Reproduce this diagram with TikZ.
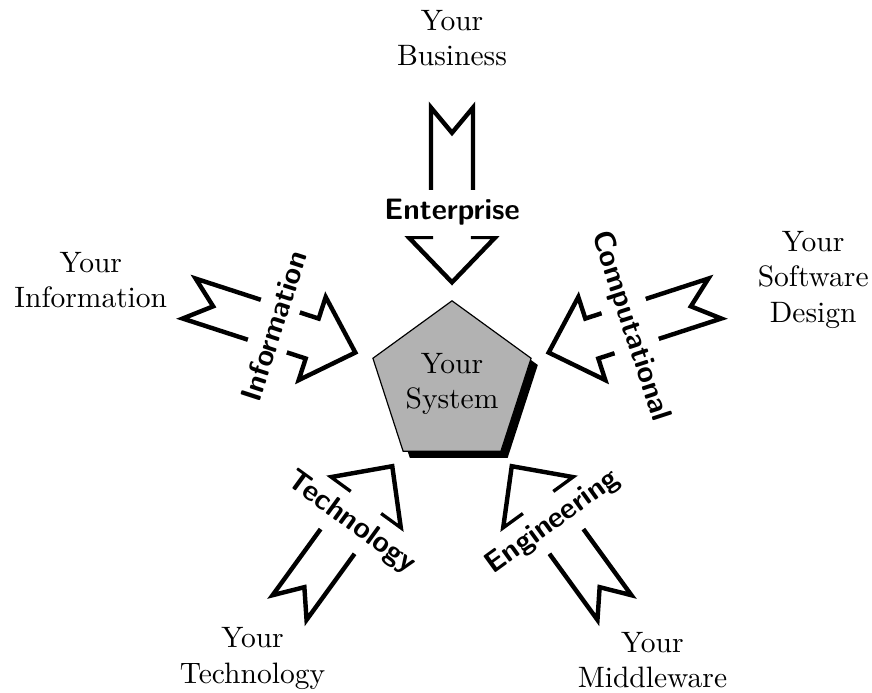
\documentclass[tikz,border=0pt]{standalone}
\usetikzlibrary{shapes.geometric}
\usetikzlibrary{shadows}
\tikzset{viewpoint/.style={line width=1.5pt}}
\tikzset{viewlabel/.style={fill=white,font=\sffamily\bfseries}}
\tikzset{yourlabel/.style={align=center}}
\newcommand{\viewpath}{(1.21,0) -- (1.75,0.52) -- (1.75,0.25) -- (3.29,0.25) -- (2.99,0) -- (3.29,-0.25) -- (1.75,-0.25) -- (1.75,-0.52) -- cycle}

\begin{document}
\begin{tikzpicture}
\useasboundingbox (-5.381,-3.667) rectangle (5.0,4.571);

\draw [viewpoint, rotate=90] \viewpath;
\draw [viewpoint, rotate=162] \viewpath;
\draw [viewpoint, rotate=18] \viewpath;
\draw [viewpoint, rotate=234] \viewpath;
\draw [viewpoint, rotate=306] \viewpath;

\node (ent) at (90:2.04) [viewlabel] {Enterprise};
\node (inf) at (162:2.23) [viewlabel, rotate=72] {Information};
\node (comp) at (18:2.23) [viewlabel, rotate=-72] {Computational};
\node (tech) at (234:2.04) [viewlabel, rotate=-36] {Technology};
\node (eng) at (306:2.04) [viewlabel, rotate=36] {Engineering};

\node (sys) at (0,0) [draw, fill=black!30, regular polygon, regular polygon sides=5, minimum size=1.98cm, inner sep=0pt, align=center, drop shadow={shadow xshift=0.08cm, shadow yshift=-0.08cm, opacity=1, fill=black}] {Your\\System};

\node (business) at (90:4.12) [yourlabel] {Your\\Business};
\node (information) at (-4.30,1.24) [yourlabel] {Your\\Information};
\node (software) at (4.30,1.24) [yourlabel] {Your\\Software\\Design};
\node (technology) at (234:4.04) [yourlabel] {Your\\Technology};
\node (middleware) at (306:4.06) [yourlabel] {Your\\Middleware};

\end{tikzpicture}
\end{document}
